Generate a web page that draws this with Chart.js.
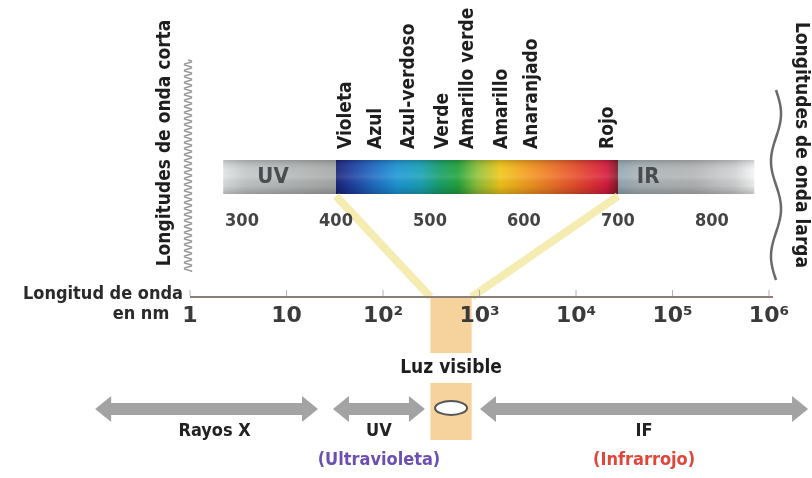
<!DOCTYPE html>
<html><head><meta charset="utf-8">
<script src="https://cdn.jsdelivr.net/npm/chart.js@4.4.1/dist/chart.umd.min.js"></script>
<style>html,body{margin:0;padding:0;background:#fff;}canvas{display:block;}</style>
</head><body>
<canvas id="c" width="812" height="478" style="width:812px;height:478px"></canvas>
<script>
// ---- data ----
const colorNames = ['Violeta','Azul','Azul-verdoso','Verde','Amarillo verde','Amarillo','Anaranjado','Rojo'];
const colorNm = [411, 443, 478, 514, 541, 577, 609, 689];
const bandTicks = [300, 400, 500, 600, 700, 800];
const visibleNm = [400, 700];
const uvBandNm = [280, 400];
const irBandNm = [700, 845];
const logTicks = [1, 10, 100, 1000, 10000, 100000, 1000000];
const logTickLabels = ['1', '10', '10²', '10³', '10⁴', '10⁵', '10⁶'];
const visibleLogNm = [310, 830];
const regionNames = ['Rayos X', 'UV', 'IF'];
const regionSub = ['', '(Ultravioleta)', '(Infrarrojo)'];
const regionFrom = [0.104, 30.3, 1012];
const regionTo = [21.2, 272, 2540000];

const FAM = "'DejaVu Sans Condensed','DejaVu Sans',sans-serif";
const f = (s) => `bold ${s}px ${FAM}`;

const spectrumStops = [
  [400, '#1b2377'], [415, '#1f3c9e'], [440, '#1f6cc4'], [465, '#1d97d6'], [490, '#1aa2b8'],
  [510, '#17a06a'], [530, '#22a43c'], [550, '#8fc23a'], [575, '#f2c619'], [600, '#f3a11d'],
  [630, '#ee7426'], [660, '#e5452c'], [688, '#d81a3e'], [700, '#7e1a28']
];

function arrow(ctx, x1, x2, y) {
  const bh = 6, hh = 13, hl = 16;
  ctx.beginPath();
  ctx.moveTo(x1, y);
  ctx.lineTo(x1 + hl, y - hh); ctx.lineTo(x1 + hl, y - bh); ctx.lineTo(x2 - hl, y - bh);
  ctx.lineTo(x2 - hl, y - hh); ctx.lineTo(x2, y); ctx.lineTo(x2 - hl, y + hh);
  ctx.lineTo(x2 - hl, y + bh); ctx.lineTo(x1 + hl, y + bh); ctx.lineTo(x1 + hl, y + hh);
  ctx.closePath();
  ctx.fill();
}

const diagram = {
  id: 'diagram',
  beforeDraw(chart) {
    const ctx = chart.ctx;
    const X = chart.scales.x, L = chart.scales.log, Y = chart.scales.y;
    const px = v => X.getPixelForValue(v), lx = v => L.getPixelForValue(v), py = v => Y.getPixelForValue(v);
    ctx.save();
    ctx.fillStyle = '#fff';
    ctx.fillRect(0, 0, chart.width, chart.height);

    const bt = py(160), bb = py(194), bh = bb - bt;
    // UV gray band
    let g = ctx.createLinearGradient(px(uvBandNm[0]), 0, px(uvBandNm[1]), 0);
    g.addColorStop(0, '#dfe2e2'); g.addColorStop(0.2, '#c3c7c7'); g.addColorStop(1, '#a7a9a9');
    ctx.fillStyle = g;
    ctx.fillRect(px(uvBandNm[0]), bt, px(uvBandNm[1]) - px(uvBandNm[0]), bh);
    // IR gray band
    g = ctx.createLinearGradient(px(irBandNm[0]), 0, px(irBandNm[1]), 0);
    g.addColorStop(0, '#93a9b2'); g.addColorStop(0.15, '#a9b3b7'); g.addColorStop(0.55, '#b3b4b5');
    g.addColorStop(0.85, '#cfd1d2'); g.addColorStop(1, '#f4f5f5');
    ctx.fillStyle = g;
    ctx.fillRect(px(irBandNm[0]), bt, px(irBandNm[1]) - px(irBandNm[0]), bh);
    // visible spectrum
    const s0 = px(visibleNm[0]), s1 = px(visibleNm[1]);
    g = ctx.createLinearGradient(s0, 0, s1, 0);
    spectrumStops.forEach(([nm, c]) => g.addColorStop((nm - visibleNm[0]) / (visibleNm[1] - visibleNm[0]), c));
    ctx.fillStyle = g;
    ctx.fillRect(s0, bt, s1 - s0, bh);
    // shading overlay for all bands
    g = ctx.createLinearGradient(0, bt, 0, bb);
    g.addColorStop(0, 'rgba(0,0,0,0.18)'); g.addColorStop(0.3, 'rgba(255,255,255,0.06)');
    g.addColorStop(0.5, 'rgba(255,255,255,0.12)'); g.addColorStop(0.75, 'rgba(0,0,0,0.05)');
    g.addColorStop(1, 'rgba(0,0,0,0.22)');
    ctx.fillStyle = g;
    ctx.fillRect(px(uvBandNm[0]), bt, px(irBandNm[1]) - px(uvBandNm[0]), bh);
    // band labels
    ctx.fillStyle = '#4a4d50';
    ctx.font = f(22);
    ctx.textAlign = 'center'; ctx.textBaseline = 'middle';
    ctx.fillText('UV', px(333), py(177));
    ctx.fillText('IR', px(732), py(177));

    // yellow connector lines
    ctx.strokeStyle = 'rgba(240,230,150,0.75)';
    ctx.lineWidth = 8;
    ctx.beginPath();
    ctx.moveTo(px(visibleNm[0]), bb + 2); ctx.lineTo(lx(visibleLogNm[0]), py(297));
    ctx.moveTo(px(visibleNm[1]), bb + 2); ctx.lineTo(lx(visibleLogNm[1]), py(297));
    ctx.stroke();

    // orange visible column
    ctx.fillStyle = '#f6d39d';
    ctx.fillRect(lx(visibleLogNm[0]), py(297), lx(visibleLogNm[1]) - lx(visibleLogNm[0]), py(440) - py(297));

    // log axis line
    ctx.strokeStyle = '#8c7f78';
    ctx.lineWidth = 2;
    ctx.beginPath();
    ctx.moveTo(lx(logTicks[0]), py(297)); ctx.lineTo(lx(logTicks[logTicks.length - 1]) + 4, py(297));
    ctx.stroke();
    ctx.lineWidth = 1;
    ctx.strokeStyle = '#b8b0aa';
    logTicks.forEach(v => {
      ctx.beginPath(); ctx.moveTo(lx(v), py(290)); ctx.lineTo(lx(v), py(296)); ctx.stroke();
    });

    // color names (vertical)
    ctx.fillStyle = '#1e1e1e';
    ctx.font = f(19);
    ctx.textAlign = 'left'; ctx.textBaseline = 'middle';
    colorNames.forEach((name, i) => {
      ctx.save();
      ctx.translate(px(colorNm[i]), py(149));
      ctx.rotate(-Math.PI / 2);
      ctx.fillText(name, 0, 0);
      ctx.restore();
    });

    // side labels
    ctx.font = f(19);
    ctx.textAlign = 'center';
    ctx.save();
    ctx.translate(165, 143); ctx.rotate(-Math.PI / 2);
    ctx.fillText('Longitudes de onda corta', 0, 0);
    ctx.restore();
    ctx.save();
    ctx.translate(801, 145); ctx.rotate(Math.PI / 2);
    ctx.fillText('Longitudes de onda larga', 0, 0);
    ctx.restore();

    // short wave zigzag
    ctx.strokeStyle = '#9a9a9a'; ctx.lineWidth = 1.4;
    ctx.beginPath();
    for (let y = 60; y <= 272; y += 1) {
      const x = 188 + 4 * Math.sin((y - 60) * 2 * Math.PI / 6);
      y === 60 ? ctx.moveTo(x, y) : ctx.lineTo(x, y);
    }
    ctx.stroke();
    // long wave
    ctx.strokeStyle = '#6a6a6a'; ctx.lineWidth = 2.5;
    ctx.beginPath();
    for (let y = 90; y <= 280; y += 1) {
      const x = 776 + 5 * Math.sin((y - 90) * 2 * Math.PI / 95);
      y === 90 ? ctx.moveTo(x, y) : ctx.lineTo(x, y);
    }
    ctx.stroke();

    // axis title
    ctx.fillStyle = '#2a2a2a';
    ctx.font = f(18);
    ctx.textAlign = 'center';
    ctx.fillText('Longitud de onda', 103, 294);
    ctx.fillText('en nm', 141, 314);

    // region arrows
    ctx.fillStyle = '#a3a3a3';
    regionNames.forEach((n, i) => arrow(ctx, lx(regionFrom[i]), lx(regionTo[i]), py(409)));
    ctx.fillStyle = '#222';
    ctx.font = f(18);
    regionNames.forEach((n, i) => {
      const mid = Math.sqrt(regionFrom[i] * regionTo[i]);
      ctx.fillText(n, lx(mid) + (i === 0 ? 8 : 0), py(431));
    });
    const subColors = ['#222', '#6b4fb3', '#e2453a'];
    regionSub.forEach((n, i) => {
      if (!n) return;
      const mid = Math.sqrt(regionFrom[i] * regionTo[i]);
      ctx.fillStyle = subColors[i];
      ctx.fillText(n, lx(mid), py(460));
    });

    // visible light label
    const vmid = Math.sqrt(visibleLogNm[0] * visibleLogNm[1]);
    ctx.font = f(19);
    const tw = ctx.measureText('Luz visible').width;
    ctx.fillStyle = '#ffffff';
    ctx.fillRect(lx(vmid) - tw / 2 - 6, py(353), tw + 12, 30);
    ctx.fillStyle = '#1e1e1e';
    ctx.fillText('Luz visible', lx(vmid), py(368));
    // wave symbol
    ctx.fillStyle = '#fff'; ctx.strokeStyle = '#555'; ctx.lineWidth = 2;
    ctx.beginPath();
    ctx.ellipse(lx(vmid), py(408), 16, 7, 0, 0, Math.PI * 2);
    ctx.fill(); ctx.stroke();
    ctx.restore();
  }
};

new Chart(document.getElementById('c'), {
  type: 'scatter',
  data: { datasets: [] },
  options: {
    responsive: false,
    devicePixelRatio: 1,
    animation: false,
    layout: { padding: 0 },
    plugins: { legend: { display: false }, tooltip: { enabled: false } },
    scales: {
      y: { type: 'linear', min: 0, max: 478, reverse: true, display: false },
      x: {
        type: 'linear', min: 42.55, max: 906.4, position: { y: 211 },
        grid: { display: false, drawTicks: false }, border: { display: false },
        afterBuildTicks: (s) => { s.ticks = bandTicks.map(v => ({ value: v })); },
        ticks: { autoSkip: false, maxRotation: 0, padding: 0, color: '#444',
          font: { family: FAM, size: 18, weight: 'bold' }, callback: (v) => String(v) }
      },
      log: {
        type: 'logarithmic', axis: 'x', min: 0.01074, max: 2790000, position: { y: 297 },
        grid: { display: false, drawTicks: false }, border: { display: false },
        afterBuildTicks: (s) => { s.ticks = logTicks.map(v => ({ value: v })); },
        ticks: { autoSkip: false, maxRotation: 0, padding: 6, color: '#3a3a3a',
          font: { family: "'DejaVu Sans',sans-serif", size: 22, weight: 'bold' },
          callback: (v, i) => logTickLabels[i] }
      }
    }
  },
  plugins: [diagram]
});
</script>
</body></html>
